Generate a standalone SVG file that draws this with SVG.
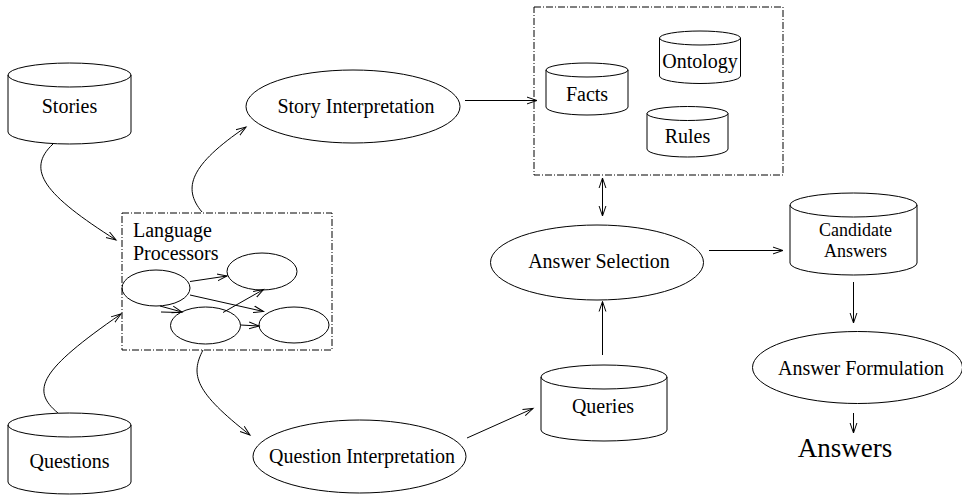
<svg xmlns="http://www.w3.org/2000/svg" width="962" height="495" viewBox="0 0 962 495">
<style>
.s{fill:none;stroke:#000;stroke-width:1}
.box{fill:none;stroke:#000;stroke-width:1;stroke-dasharray:7,2,1,2}
.t{font-family:"Liberation Serif","Times New Roman",serif;font-size:20px;fill:#000;text-anchor:middle}
.t2{font-family:"Liberation Serif","Times New Roman",serif;font-size:18px;fill:#000;text-anchor:middle}
.tl{font-family:"Liberation Serif","Times New Roman",serif;font-size:20px;fill:#000}
.big{font-family:"Liberation Serif","Times New Roman",serif;font-size:27px;fill:#000;text-anchor:middle}
.c{fill:none;stroke:#000;stroke-width:1;marker-end:url(#ah)}
</style>
<defs>
<marker id="ah" markerWidth="12" markerHeight="10" refX="10" refY="5" orient="auto" markerUnits="userSpaceOnUse"><path d="M0,1.6 L10,5 L0,8.4" fill="none" stroke="#000" stroke-width="1"/></marker>
<marker id="ahs" markerWidth="12" markerHeight="10" refX="10" refY="5" orient="auto-start-reverse" markerUnits="userSpaceOnUse"><path d="M0,1.6 L10,5 L0,8.4" fill="none" stroke="#000" stroke-width="1"/></marker>
</defs>
<rect width="962" height="495" fill="#fff"/>

<g id="stories">
<path class="s" d="M8,75 V132 A61.5,12 0 0 0 131,132 V75"/>
<ellipse class="s" cx="69.5" cy="75" rx="61.5" ry="12"/>
<text class="t" x="69.5" y="113">Stories</text>
</g>

<g id="questions">
<path class="s" d="M8,425 V482 A61.5,12 0 0 0 131,482 V425"/>
<ellipse class="s" cx="69.5" cy="425" rx="61.5" ry="12"/>
<text class="t" x="69.5" y="468">Questions</text>
</g>

<g id="language-processors">
<rect class="box" x="122" y="213" width="210" height="137"/>
<text class="tl" x="133" y="237">Language</text>
<text class="tl" x="133" y="260">Processors</text>
</g>
<g id="lp-a"><ellipse class="s" cx="156" cy="288" rx="34" ry="18"/></g>
<g id="lp-b"><ellipse class="s" cx="262" cy="271.5" rx="35" ry="18.5"/></g>
<g id="lp-c"><ellipse class="s" cx="205.5" cy="325.5" rx="35" ry="18.5"/></g>
<g id="lp-d"><ellipse class="s" cx="294" cy="325" rx="35" ry="18"/></g>

<g id="story-interpretation">
<ellipse class="s" cx="353" cy="106.5" rx="107" ry="36.5"/>
<text class="t" x="356" y="113">Story Interpretation</text>
</g>

<g id="question-interpretation">
<ellipse class="s" cx="359.5" cy="456.5" rx="106.5" ry="36.5"/>
<text class="t" x="362" y="463">Question Interpretation</text>
</g>

<g id="knowledge-base">
<rect class="box" x="534" y="7" width="249" height="168"/>
</g>
<g id="facts">
<path class="s" d="M546,70 V107 A41,8 0 0 0 628,107 V70"/>
<ellipse class="s" cx="587" cy="70" rx="41" ry="7"/>
<text class="t" x="587" y="101">Facts</text>
</g>
<g id="ontology">
<path class="s" d="M659.5,38 V76 A40.5,7.5 0 0 0 740.5,76 V38"/>
<ellipse class="s" cx="700" cy="38" rx="40.5" ry="7"/>
<text class="t" x="700" y="68">Ontology</text>
</g>
<g id="rules">
<path class="s" d="M647,113.5 V149 A40.5,8 0 0 0 728,149 V113.5"/>
<ellipse class="s" cx="687.5" cy="113.5" rx="40.5" ry="7"/>
<text class="t" x="687.5" y="143">Rules</text>
</g>

<g id="answer-selection">
<ellipse class="s" cx="597" cy="262.5" rx="106.5" ry="37.5"/>
<text class="t" x="599" y="268">Answer Selection</text>
</g>

<g id="queries">
<path class="s" d="M541,377 V430 A63,11 0 0 0 667,430 V377"/>
<ellipse class="s" cx="604" cy="377" rx="63" ry="12"/>
<text class="t" x="603" y="413">Queries</text>
</g>

<g id="candidate-answers">
<path class="s" d="M790,205 V263 A63.5,12 0 0 0 917,263 V205"/>
<ellipse class="s" cx="853.5" cy="205" rx="63.5" ry="12"/>
<text class="t2" x="855.5" y="236">Candidate</text>
<text class="t2" x="855.5" y="257">Answers</text>
</g>

<g id="answer-formulation">
<ellipse class="s" cx="857.5" cy="367.5" rx="105" ry="36"/>
<text class="t" x="861" y="375">Answer Formulation</text>
</g>

<g id="answers">
<text class="big" x="845" y="457">Answers</text>
</g>

<g id="connectors">
<path class="c" d="M53,144 C25,170 45,195 116,240"/>
<path class="c" d="M58,413 C30,390 40,370 121,314"/>
<path class="c" d="M202,212 C182,188 190,165 246,127"/>
<path class="c" d="M203,350 C190,375 195,392 250,435"/>
<path class="c" d="M465,100.5 H537"/>
<path class="s" d="M602.5,178 V216" style="marker-start:url(#ahs);marker-end:url(#ahs)"/>
<path class="c" d="M709,250.5 H783"/>
<path class="c" d="M602.5,355 V301.5"/>
<path class="c" d="M467,438 L533,408.5"/>
<path class="c" d="M853.5,282 V323"/>
<path class="c" d="M853.5,413 V433"/>
<path class="c" d="M190,281.5 L227,276"/>
<path class="c" d="M190,295 L263.5,311.5"/>
<path class="c" d="M160,306 L182,312"/>
<path class="s" d="M161,312 L180,312.5"/>
<path class="c" d="M223,312.5 L263.5,289.5"/>
<path class="c" d="M240.5,325 L259,326"/>
</g>
</svg>
